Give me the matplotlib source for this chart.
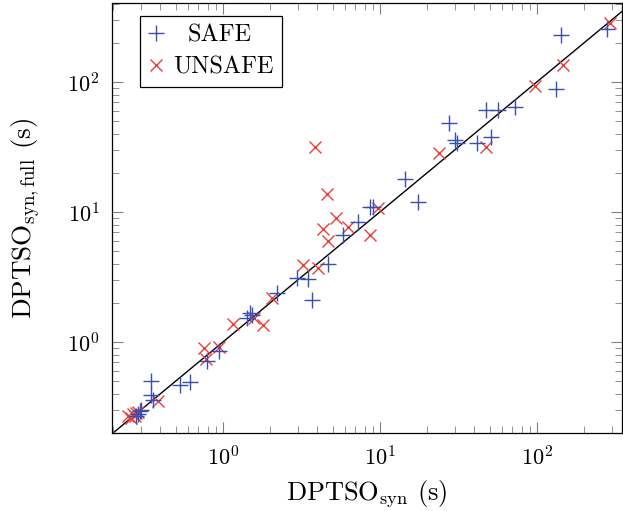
import matplotlib; matplotlib.use("Agg")
import matplotlib.pyplot as plt
from matplotlib.ticker import LogLocator, NullFormatter

plt.rcParams['font.family'] = ['cmr10', 'DejaVu Serif']
plt.rcParams['mathtext.fontset'] = 'cm'
plt.rcParams['axes.formatter.use_mathtext'] = True

# DPTSO_syn (x) vs DPTSO_syn,full (y), seconds
safe_x = [0.28, 0.29, 0.297, 0.30, 0.35, 0.35, 0.36, 0.535, 0.62, 0.79, 0.94, 1.42, 1.49, 1.53,
          2.21, 2.96, 3.48, 3.69, 4.7, 5.87, 7.3, 8.7, 9.1, 14.5, 17.6, 27.7, 30.2, 31, 41.5,
          47.5, 51, 56.9, 72.8, 132, 142, 282]
safe_y = [0.27, 0.28, 0.293, 0.30, 0.5, 0.394, 0.36, 0.47, 0.49, 0.71, 0.85, 1.53, 1.67, 1.62,
          2.38, 3.1, 3.04, 2.11, 3.99, 6.66, 8.4, 11, 11, 18.1, 12, 48.5, 36.1, 34, 34,
          61.4, 37.9, 60.7, 64.3, 89, 228, 257]
unsafe_x = [0.25, 0.26, 0.27, 0.275, 0.28, 0.29, 0.385, 0.76, 0.78, 0.94, 1.17, 1.58, 1.81, 2.05,
            3.23, 3.87, 4.03, 4.33, 4.6, 4.7, 5.3, 6.3, 8.7, 9.8, 24, 47.5, 97.5, 146, 293]
unsafe_y = [0.27, 0.26, 0.28, 0.27, 0.285, 0.29, 0.355, 0.9, 0.74, 0.925, 1.38, 1.53, 1.36, 2.17,
            3.92, 31.4, 3.7, 7.36, 13.7, 6.02, 8.95, 7.7, 6.66, 10.8, 28.2, 31.7, 92.7, 136, 284]
diag = [0.1, 1000]

fig = plt.figure(figsize=(6.23, 5.11), dpi=100)
ax = fig.add_axes([112/623, 78/511, 510/623, 430/511])
ax.plot(diag, diag, color='black', lw=1.0, zorder=1)
ax.plot(safe_x, safe_y, ls='none', marker='+', ms=11, mew=1.0, color='#3a4fb0', label='SAFE', zorder=3)
ax.plot(unsafe_x, unsafe_y, ls='none', marker='x', ms=8.5, mew=1.0, color='#e8403a', label='UNSAFE', zorder=2)
ax.set_xscale('log'); ax.set_yscale('log')
ax.set_xlim(0.197, 349); ax.set_ylim(0.2, 405)
ax.xaxis.set_major_locator(LogLocator(base=10, numticks=10))
ax.yaxis.set_major_locator(LogLocator(base=10, numticks=10))
ax.xaxis.set_minor_locator(LogLocator(base=10, subs=range(2, 10), numticks=20))
ax.yaxis.set_minor_locator(LogLocator(base=10, subs=range(2, 10), numticks=20))
ax.xaxis.set_minor_formatter(NullFormatter()); ax.yaxis.set_minor_formatter(NullFormatter())
ax.tick_params(which='both', direction='in', top=True, right=True, color='#808080', labelsize=16)
ax.tick_params(which='major', length=8, width=0.8, pad=9)
ax.tick_params(which='minor', length=5, width=0.6)
for s in ax.spines.values(): s.set_linewidth(0.9)
ax.set_xlabel(r'DPTSO$_{\mathrm{syn}}$ (s)', fontsize=19, labelpad=6)
ax.set_ylabel(r'DPTSO$_{\mathrm{syn,full}}$ (s)', fontsize=19.5, labelpad=18)
leg = ax.legend(loc='upper left', bbox_to_anchor=(0.055, 0.97), borderaxespad=0, fontsize=17.5,
                fancybox=False, edgecolor='black', framealpha=1, handlelength=0.6,
                handletextpad=0.4, borderpad=0.35, labelspacing=0.4)
leg.get_frame().set_linewidth(0.9)
leg.get_texts()[0].set_x(15)  # pgfplots centres the shorter entry
fig.savefig('out.png', dpi=100)
